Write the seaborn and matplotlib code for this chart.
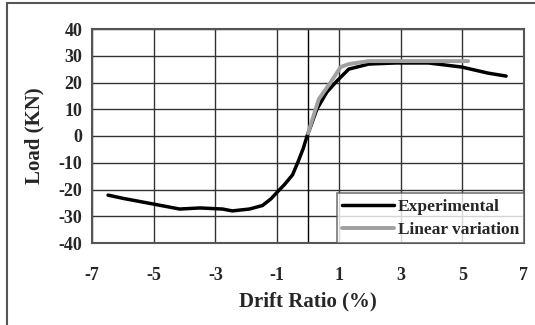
import matplotlib
matplotlib.use("Agg")
import matplotlib.pyplot as plt
import seaborn as sns
import pandas as pd
from matplotlib.patches import Rectangle

sns.set_style("white")
plt.rcParams['font.family'] = ['Liberation Serif', 'DejaVu Serif']
plt.rcParams['font.weight'] = 'bold'

# Experimental curve
exp_drift = [-6.48, -6.0, -5.03, -4.16, -3.5, -2.77, -2.45, -1.9, -1.48, -1.2, -1.0,
             -0.75, -0.5, -0.3, -0.15, -0.03, 0.1, 0.29, 0.61, 0.94, 1.32, 1.97,
             2.84, 3.9, 4.97, 5.84, 6.42]
exp_load = [-22.1, -23.3, -25.4, -27.3, -26.9, -27.3, -28.0, -27.3, -26.0, -23.5, -21.0,
            -18.0, -14.5, -9.0, -4.5, 0.0, 4.0, 10.1, 16.4, 20.6, 25.0, 26.9,
            27.3, 27.3, 25.8, 23.5, 22.4]

# Linear variation
lin_drift = [0.0, 0.35, 0.74, 1.06, 1.32, 1.97, 2.3, 5.19]
lin_load = [1.0, 13.8, 20.2, 25.8, 26.9, 28.0, 28.0, 28.0]

x_ticks = [-7, -5, -3, -1, 1, 3, 5, 7]
y_ticks = [-40, -30, -20, -10, 0, 10, 20, 30, 40]

df_exp = pd.DataFrame({"Drift": exp_drift, "Load": exp_load})
df_lin = pd.DataFrame({"Drift": lin_drift, "Load": lin_load})

fig = plt.figure(figsize=(5.35, 3.25), dpi=100)
ax = fig.add_axes([92/535, 1-243/325, (524-92)/535, (243-29)/325])

# outer frame (only top/left visible)
fig.patches.append(Rectangle((7/535, -0.05), 1.2, 1-3/325+0.05, transform=fig.transFigure,
                             fill=False, edgecolor='#555555', linewidth=1.5))

for xt in x_ticks:
    ax.axvline(xt, color='#333333', lw=1.0, zorder=1)
for yt in y_ticks:
    ax.axhline(yt, color='#333333', lw=1.0, zorder=1)
ax.axvline(0, color='black', lw=1.0, zorder=1)

sns.lineplot(data=df_exp, x="Drift", y="Load", sort=False, ax=ax, color='black',
             lw=2.5, label='Experimental', zorder=3)
sns.lineplot(data=df_lin, x="Drift", y="Load", sort=False, ax=ax, color='#a0a0a0',
             lw=2.8, label='Linear variation', zorder=4)

ax.set_xlim(-7, 7)
ax.set_ylim(-40, 40)
ax.set_xticks(x_ticks)
ax.set_yticks(y_ticks)
ax.set_xticklabels([str(v) for v in x_ticks], fontsize=13, fontweight='bold')
ax.set_yticklabels([str(v) for v in y_ticks], fontsize=13, fontweight='bold')
ax.tick_params(axis='x', length=0, pad=17)
ax.tick_params(axis='y', length=0, pad=7)
for s in ax.spines.values():
    s.set_color('#555555')
    s.set_linewidth(1.5)

ax.set_xlabel("Drift Ratio (%)", fontsize=15, fontweight='bold', labelpad=6)
ax.set_ylabel("Load (KN)", fontsize=15, fontweight='bold', labelpad=10)

leg = ax.legend(loc='lower right', frameon=True, fancybox=False, borderaxespad=0,
                prop={'size': 12.5, 'weight': 'bold'}, handlelength=3.0,
                handletextpad=0.2, borderpad=0.3, labelspacing=0.4)
leg.get_frame().set_edgecolor('#555555')
leg.get_frame().set_linewidth(1.2)

fig.savefig("out.png", dpi=100)
